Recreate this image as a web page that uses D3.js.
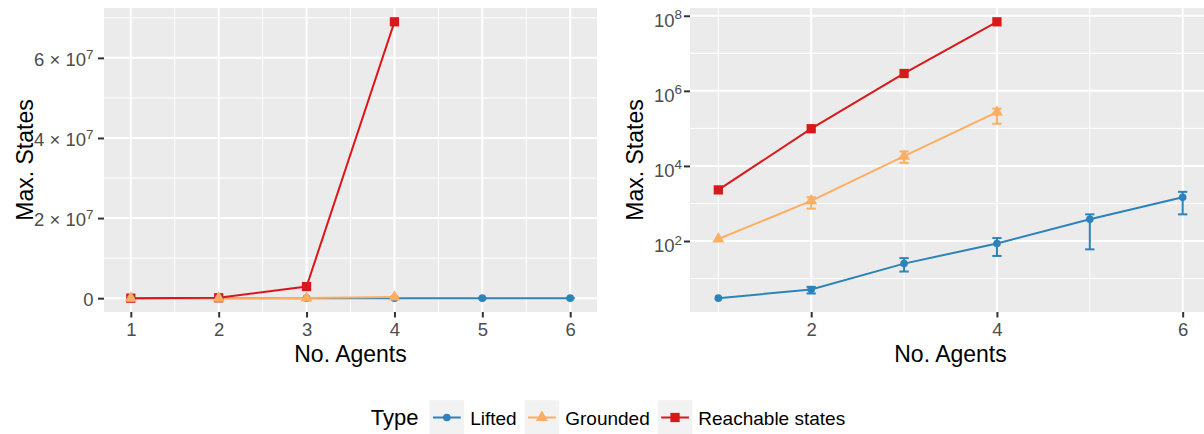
<!DOCTYPE html>
<html>
<head>
<meta charset="utf-8">
<script src="https://cdn.jsdelivr.net/npm/d3@7"></script>
<style>
  body { margin: 0; background: #fff; }
  text { font-family: 'Liberation Sans', Arial, sans-serif; }
</style>
</head>
<body>
<script>
// values
let agents = [1, 2, 3, 4, 5, 6]
let liftedMean = [3, 5.1, 25, 86, 380, 1460]
let liftedLo = [3, 4.0, 15.4, 40, 60, 513]
let liftedHi = [3, 6.0, 35, 120, 513, 2040]
let groundedMean = [113, 1170, 18150, 272000]
let groundedLo = [113, 728, 12100, 133000]
let groundedHi = [113, 1460, 24300, 335000]
let reachableMean = [2300, 98000, 2.9e6, 6.9e7]

let typeNames = ['Lifted', 'Grounded', 'Reachable states']
let typeColors = ['#2b83ba', '#fdae61', '#d7191c']

let linXTicks = [1, 2, 3, 4, 5, 6]
let linXMinor = [1.5, 2.5, 3.5, 4.5, 5.5]
let linYTicks = [0, 2e7, 4e7, 6e7]
let linYMinor = [1e7, 3e7, 5e7, 7e7]
let logXTicks = [2, 4, 6]
let logXMinor = [1, 3, 5]
let logYTicks = [1e2, 1e4, 1e6, 1e8]
let logYMinor = [1e1, 1e3, 1e5, 1e7]

let width = 1204
let height = 434
let panelTop = 8
let panelBottom = 312
let errW = 0.05

let series = [
  { name: typeNames[0], color: typeColors[0], shape: d3.symbolCircle, size: 46, mean: liftedMean, lo: liftedLo, hi: liftedHi },
  { name: typeNames[1], color: typeColors[1], shape: d3.symbolTriangle, size: 62, mean: groundedMean, lo: groundedLo, hi: groundedHi },
  { name: typeNames[2], color: typeColors[2], shape: d3.symbolSquare, size: 86, mean: reachableMean, lo: reachableMean, hi: reachableMean }
]
series.forEach(s => {
  s.points = s.mean.map((m, i) => ({ x: agents[i], y: m, lo: s.lo[i], hi: s.hi[i] }))
})

let svg = d3.select('body').append('svg')
  .attr('width', width)
  .attr('height', height)

function expand (ext, f) {
  let r = ext[1] - ext[0]
  return [ext[0] - r * f, ext[1] + r * f]
}

let allPts = series.flatMap(s => s.points)
let xExt = expand([d3.min(allPts, d => d.x) - errW, d3.max(allPts, d => d.x) + errW], 0.05)
let linExt = expand([d3.min(allPts, d => d.lo), d3.max(allPts, d => d.hi)], 0.05)
let logExt = expand([Math.log10(d3.min(allPts, d => d.lo)), Math.log10(d3.max(allPts, d => d.hi))], 0.05)

function supLabel (sel, main, sup, supDy) {
  sel.text(null)
  sel.append('tspan').text(main)
  if (sup !== null) {
    sel.append('tspan').attr('dy', supDy).attr('font-size', 13.5).text(sup)
  }
}

function drawPanel (opts) {
  let x = d3.scaleLinear().domain(xExt).range([opts.left, opts.right])
  let y = opts.y
  let g = svg.append('g')
  let id = 'clip' + opts.left

  g.append('clipPath').attr('id', id)
    .append('rect')
    .attr('x', opts.left).attr('y', panelTop)
    .attr('width', opts.right - opts.left).attr('height', panelBottom - panelTop)

  g.append('rect')
    .attr('x', opts.left).attr('y', panelTop)
    .attr('width', opts.right - opts.left).attr('height', panelBottom - panelTop)
    .attr('fill', '#ebebeb')

  let grid = g.append('g').attr('clip-path', 'url(#' + id + ')')
  grid.selectAll('.ymin').data(opts.yMinor).enter().append('line')
    .attr('x1', opts.left).attr('x2', opts.right)
    .attr('y1', d => y(d)).attr('y2', d => y(d))
    .attr('stroke', '#fff').attr('stroke-width', 1)
  grid.selectAll('.xmin').data(opts.xMinor).enter().append('line')
    .attr('y1', panelTop).attr('y2', panelBottom)
    .attr('x1', d => x(d)).attr('x2', d => x(d))
    .attr('stroke', '#fff').attr('stroke-width', 1)
  grid.selectAll('.ymaj').data(opts.yTicks).enter().append('line')
    .attr('x1', opts.left).attr('x2', opts.right)
    .attr('y1', d => y(d)).attr('y2', d => y(d))
    .attr('stroke', '#fff').attr('stroke-width', 2)
  grid.selectAll('.xmaj').data(opts.xTicks).enter().append('line')
    .attr('y1', panelTop).attr('y2', panelBottom)
    .attr('x1', d => x(d)).attr('x2', d => x(d))
    .attr('stroke', '#fff').attr('stroke-width', 2)

  let marks = g.append('g').attr('clip-path', 'url(#' + id + ')')
  let line = d3.line().x(d => x(d.x)).y(d => y(d.y))

  series.forEach(s => {
    marks.append('path')
      .datum(s.points)
      .attr('d', line)
      .attr('fill', 'none')
      .attr('stroke', s.color)
      .attr('stroke-width', 2)
  })

  series.forEach(s => {
    let eb = marks.append('g').attr('stroke', s.color).attr('stroke-width', 2)
    let pts = s.points.filter(d => d.hi > d.lo)
    eb.selectAll('.v').data(pts).enter().append('line')
      .attr('x1', d => x(d.x)).attr('x2', d => x(d.x))
      .attr('y1', d => y(d.lo)).attr('y2', d => y(d.hi))
    eb.selectAll('.t').data(pts).enter().append('line')
      .attr('x1', d => x(d.x - errW)).attr('x2', d => x(d.x + errW))
      .attr('y1', d => y(d.hi)).attr('y2', d => y(d.hi))
    eb.selectAll('.b').data(pts).enter().append('line')
      .attr('x1', d => x(d.x - errW)).attr('x2', d => x(d.x + errW))
      .attr('y1', d => y(d.lo)).attr('y2', d => y(d.lo))
  })

  ;[series[2], series[0], series[1]].forEach(s => {
    marks.selectAll(null).data(s.points).enter().append('path')
      .attr('d', d3.symbol().type(s.shape).size(s.size))
      .attr('transform', d => 'translate(' + x(d.x) + ',' + y(d.y) + ')')
      .attr('fill', s.color)
  })

  // axes
  let xAxis = g.append('g')
    .attr('transform', 'translate(0,' + panelBottom + ')')
    .call(d3.axisBottom(x).tickValues(opts.xTicks).tickSize(5.5).tickPadding(5.4).tickFormat(d3.format('d')))
  xAxis.select('.domain').remove()
  xAxis.selectAll('line').attr('stroke', '#333').attr('stroke-width', 2)
  xAxis.selectAll('text').attr('fill', '#4d4d4d').attr('font-size', 18.5)

  let yAxis = g.append('g')
    .attr('transform', 'translate(' + opts.left + ',0)')
    .call(d3.axisLeft(y).tickValues(opts.yTicks).tickSize(6).tickPadding(0))
  yAxis.select('.domain').remove()
  yAxis.selectAll('line').attr('stroke', '#333').attr('stroke-width', 2)
  yAxis.selectAll('text')
    .attr('fill', '#4d4d4d')
    .attr('font-size', 18.5)
    .attr('x', opts.labelX - opts.left)
    .attr('dy', opts.labelDy)
    .each(function (d) {
      let p = opts.yFormat(d)
      supLabel(d3.select(this), p[0], p[1], opts.supDy)
    })

  g.append('text')
    .attr('x', (opts.left + opts.right) / 2)
    .attr('y', 361.5)
    .attr('text-anchor', 'middle')
    .attr('font-size', 23)
    .attr('fill', '#000')
    .text('No. Agents')

  g.append('text')
    .attr('transform', 'translate(' + opts.titleX + ',' + (panelTop + panelBottom) / 2 + ') rotate(-90)')
    .attr('text-anchor', 'middle')
    .attr('font-size', 23)
    .attr('fill', '#000')
    .text('Max. States')
}

drawPanel({
  left: 104,
  right: 597,
  y: d3.scaleLinear().domain(linExt).range([panelBottom, panelTop]),
  xTicks: linXTicks,
  xMinor: linXMinor,
  yTicks: linYTicks,
  yMinor: linYMinor,
  labelX: 93.5,
  labelDy: 7.3,
  supDy: -6.6,
  titleX: 33,
  yFormat: d => d === 0 ? ['0', null] : [(d / 1e7) + ' × 10', '7']
})

drawPanel({
  left: 690,
  right: 1211,
  y: d3.scaleLog().domain([Math.pow(10, logExt[0]), Math.pow(10, logExt[1])]).range([panelBottom, panelTop]),
  xTicks: logXTicks,
  xMinor: logXMinor,
  yTicks: logYTicks,
  yMinor: logYMinor,
  labelX: 682,
  labelDy: 10.3,
  supDy: -7.3,
  titleX: 643,
  yFormat: d => ['10', String(Math.round(Math.log10(d)))]
})

// legend
let legend = svg.append('g')
let keyW = 34.6
let keyY = 400.2
let base = 425.3

let title = legend.append('text')
  .attr('x', 0).attr('y', base)
  .attr('font-size', 22)
  .text('Type')
let cx = title.node().getComputedTextLength() + 11

series.forEach(s => {
  let k = legend.append('g').attr('transform', 'translate(' + cx + ',0)')
  k.append('rect')
    .attr('x', 0).attr('y', keyY)
    .attr('width', keyW).attr('height', keyW)
    .attr('fill', '#f2f2f2')
  k.append('line')
    .attr('x1', 3.4).attr('x2', keyW - 3.4)
    .attr('y1', keyY + keyW / 2).attr('y2', keyY + keyW / 2)
    .attr('stroke', s.color).attr('stroke-width', 2)
  k.append('path')
    .attr('d', d3.symbol().type(s.shape).size(s.size))
    .attr('transform', 'translate(' + keyW / 2 + ',' + (keyY + keyW / 2) + ')')
    .attr('fill', s.color)
  let t = k.append('text')
    .attr('x', keyW + 6).attr('y', base)
    .attr('font-size', 19)
    .text(s.name)
  cx += keyW + 6 + t.node().getComputedTextLength() + 8
})

let legendW = cx - 8
legend.attr('transform', 'translate(' + (608 - legendW / 2) + ',0)')
</script>
</body>
</html>
